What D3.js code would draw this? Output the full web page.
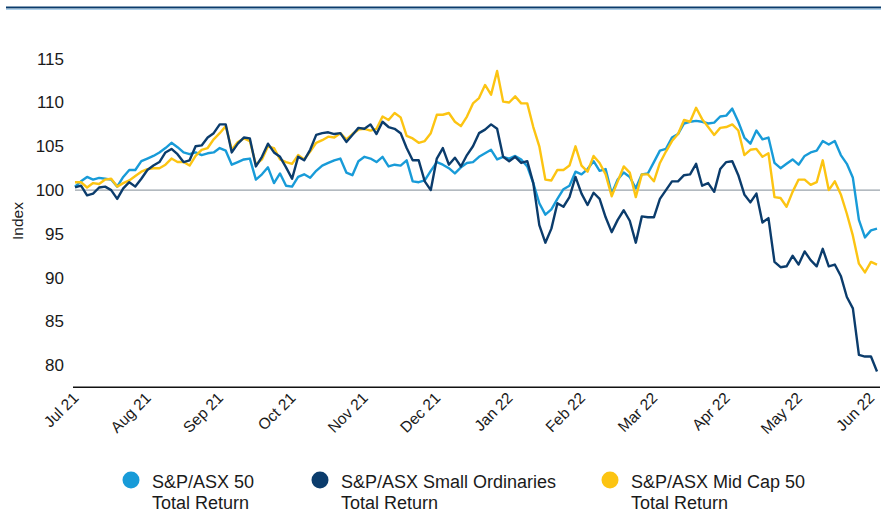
<!DOCTYPE html>
<html><head><meta charset="utf-8">
<script src="https://cdn.jsdelivr.net/npm/d3@7"></script>
<style>
html,body{margin:0;padding:0;background:#fff;}
svg{display:block;font-family:"Liberation Sans",Arial,Helvetica,sans-serif;}
</style></head>
<body><svg id="c" width="887" height="514"></svg>
<script>
// ---- data (index per ~1/12 month) ----
const monthLabels = ["Jul 21","Aug 21","Sep 21","Oct 21","Nov 21","Dec 21","Jan 22","Feb 22","Mar 22","Apr 22","May 22","Jun 22"];
const pointsPerMonth = 12;
const yTicks = [80,85,90,95,100,105,110,115];
const seriesNames = ["S&P/ASX 50|Total Return","S&P/ASX Small Ordinaries|Total Return","S&P/ASX Mid Cap 50|Total Return"];

const asx50 = [100.4,101.0,101.5,101.2,101.4,101.3,101.2,100.4,101.5,102.3,102.3,103.3,103.6,103.9,104.3,104.8,105.4,104.9,104.3,104.1,
104.3,104.0,104.2,104.3,104.8,104.5,102.9,103.2,103.5,103.6,101.2,101.8,102.6,100.8,101.9,100.5,100.4,101.5,101.8,101.4,
102.2,102.8,103.1,103.4,103.6,102.0,101.7,103.3,103.8,103.6,103.2,103.8,102.7,102.9,102.8,103.4,101.0,100.9,101.1,102.2,
103.2,102.9,102.5,101.9,102.6,103.1,103.2,103.8,104.2,104.6,103.5,103.8,103.6,103.9,103.5,102.7,100.8,98.5,97.2,97.8,
99.0,100.1,100.5,102.1,101.8,102.4,103.3,102.2,102.4,99.6,101.2,102.0,101.5,100.2,101.8,101.9,103.2,104.5,104.7,106.0,
106.4,107.6,107.8,107.9,107.8,107.6,107.7,108.4,108.5,109.3,107.8,106.0,105.3,106.8,105.8,106.0,103.1,102.5,103.0,103.5,
102.9,103.9,104.3,104.5,105.6,105.2,105.6,104.0,103.0,101.4,96.6,94.6,95.4,95.6];

const smallOrds = [100.3,100.5,99.4,99.6,100.3,100.4,100.0,99.0,100.2,100.9,100.4,101.3,102.3,102.8,103.2,104.3,104.7,104.1,103.2,103.4,
105.0,105.1,106.0,106.5,107.5,107.5,104.3,105.3,106.0,105.9,102.7,103.8,105.3,104.3,103.8,102.6,101.3,103.8,103.4,104.6,
106.3,106.5,106.6,106.4,106.5,105.5,106.3,107.1,107.0,107.5,106.4,107.8,107.2,107.0,106.5,104.8,103.4,103.4,101.0,100.0,
103.6,104.8,102.9,103.7,102.7,104.0,105.0,106.5,106.9,107.5,107.0,103.8,103.3,103.8,103.1,103.3,100.8,96.0,94.0,95.6,
98.5,98.1,99.2,101.5,99.6,98.3,99.7,99.0,96.9,95.2,96.6,97.7,96.5,94.0,97.0,96.9,96.9,99.0,100.0,101.0,
101.0,101.7,101.8,103.0,100.5,100.8,99.8,102.4,103.2,103.3,101.7,99.5,98.6,99.6,96.3,96.8,91.8,91.2,91.3,92.5,
91.5,93.0,92.0,91.3,93.3,91.3,91.5,90.2,87.8,86.5,81.2,81.0,81.0,79.3];

const midCap50 = [100.9,100.9,100.3,100.8,100.7,101.2,101.3,100.4,100.8,101.1,101.6,102.1,102.4,102.5,102.5,102.9,103.6,103.2,103.2,102.8,
103.9,104.6,104.8,105.8,106.5,107.3,104.6,105.5,105.9,105.6,102.9,103.5,105.0,104.8,103.5,103.2,103.0,104.0,103.5,104.4,
105.4,105.7,106.1,106.0,106.5,105.8,106.4,106.9,107.0,106.8,107.0,108.4,108.0,108.8,108.3,106.2,105.9,105.4,105.6,106.5,
108.6,108.6,108.8,107.8,107.3,108.4,109.9,110.5,112.0,110.9,113.6,110.1,110.0,110.7,109.9,109.9,107.2,105.0,101.2,101.1,
102.3,102.3,102.8,105.0,102.8,102.1,103.9,103.1,101.8,99.3,101.0,102.7,102.0,99.2,101.8,101.8,101.0,103.1,104.4,105.6,
106.4,108.0,107.8,109.4,108.1,107.2,106.3,107.1,107.2,107.5,106.8,104.0,104.6,104.7,103.8,104.2,99.2,99.1,98.1,99.8,
101.2,101.2,100.6,100.9,103.4,100.0,101.0,99.5,97.3,94.8,91.6,90.6,91.8,91.5];

const colors = ["#189bd8","#0b3c6c","#fcc412"];

// ---- chart ----
const svg = d3.select("#c");
const n = asx50.length;
const x = d3.scaleLinear().domain([0, n - 1]).range([75, 877]);
const y = d3.scaleLinear().domain([80, 115]).range([365.3, 58.7]);

// top rule
svg.append("line").attr("x1",6).attr("x2",881).attr("y1",7.5).attr("y2",7.5)
  .attr("stroke","#0b3c6c").attr("stroke-width",2.2);
svg.append("line").attr("x1",6).attr("x2",881).attr("y1",9.3).attr("y2",9.3)
  .attr("stroke","#9cc6e6").attr("stroke-width",1);

// y axis labels
const yAxis = svg.append("g").attr("transform","translate(70,0)")
  .call(d3.axisLeft(y).tickValues(yTicks).tickSize(0).tickPadding(6).tickFormat(d3.format("d")));
yAxis.select(".domain").remove();
yAxis.selectAll("text").attr("font-size",17).attr("fill","#1a1a1a")
  .style("font-family","'Liberation Sans',Arial,sans-serif");

svg.append("text").attr("transform","translate(23,221) rotate(-90)")
  .attr("text-anchor","middle").attr("font-size",15.5).attr("fill","#1a1a1a").text("Index");

// reference line at 100
svg.append("line").attr("x1",x.range()[0]).attr("x2",x.range()[1]+3)
  .attr("y1",y(100)).attr("y2",y(100)).attr("stroke","#9aa3ab").attr("stroke-width",1.1);

// x axis
const xLabelIdx = monthLabels.map((d,i)=>i*pointsPerMonth);
const xAxis = svg.append("g").attr("transform","translate(0,387)")
  .call(d3.axisBottom(x).tickValues(xLabelIdx).tickSize(0).tickFormat((d,i)=>monthLabels[i]));
xAxis.select(".domain").remove();
xAxis.selectAll("text")
  .attr("font-size",15.5).attr("fill","#1a1a1a")
  .style("font-family","'Liberation Sans',Arial,sans-serif")
  .attr("text-anchor","end")
  .attr("dy",null).attr("y",null)
  .attr("transform","translate(4,12) rotate(-45)");
svg.append("line").attr("x1",x.range()[0]-2).attr("x2",x.range()[1]+3)
  .attr("y1",387.3).attr("y2",387.3).attr("stroke","#111").attr("stroke-width",1.5);

// lines (draw order: ASX50, MidCap, SmallOrds on top)
const line = d3.line().x((d,i)=>x(i)).y(d=>y(d)).curve(d3.curveLinear);
const all = [asx50, smallOrds, midCap50];
[0,2,1].forEach(k=>{
  svg.append("path").datum(all[k]).attr("d",line).attr("fill","none")
    .attr("stroke",colors[k]).attr("stroke-width",2.4).attr("stroke-linejoin","round");
});

// legend
const legX = [131, 320, 610];
const lg = svg.append("g");
seriesNames.forEach((nm,k)=>{
  const g = lg.append("g").attr("transform",`translate(${legX[k]},0)`);
  g.append("circle").attr("cx",0).attr("cy",480).attr("r",8.5).attr("fill",colors[k]);
  const parts = nm.split("|");
  parts.forEach((p,j)=>{
    g.append("text").attr("x",21).attr("y",487.5 + j*21).attr("font-size",18)
      .attr("fill","#1a1a1a").text(p);
  });
});
</script></body></html>
